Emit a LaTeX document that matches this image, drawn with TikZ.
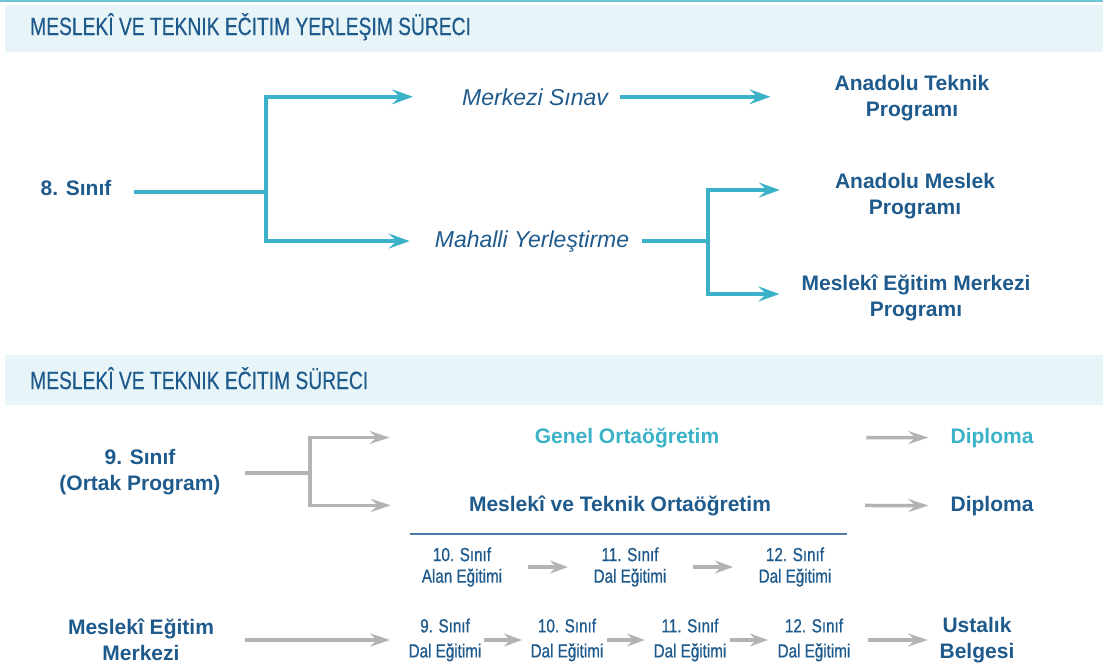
\documentclass[tikz,border=0pt]{standalone}
\usepackage{fontspec}
\setmainfont{Liberation Sans}
\newfontfamily\baslikfont[FakeStretch=0.77,FakeBold=0.4]{Liberation Sans}
\newfontfamily\dalfont[FakeStretch=0.8,FakeBold=0.8]{Liberation Sans}
\usetikzlibrary{arrows.meta}

\definecolor{koyumavi}{RGB}{30,90,140}
\definecolor{turkuaz}{RGB}{60,178,200}
\definecolor{gri}{RGB}{178,179,181}
\definecolor{bant}{RGB}{232,245,248}

\tikzset{
  baslik/.style={anchor=base west, inner sep=0pt, text=koyumavi, font=\baslikfont\fontsize{25}{30}\selectfont},
  kalin/.style={inner sep=0pt, align=center, text=koyumavi, font=\bfseries\fontsize{21}{26}\selectfont},
  egik/.style={anchor=base, inner sep=0pt, text=koyumavi, font=\itshape\fontsize{23}{28}\selectfont},
  dal/.style={inner sep=0pt, align=center, text=koyumavi, font=\dalfont\fontsize{19}{#1}\selectfont},
  dal/.default=25,
  tcizgi/.style={turkuaz, line width=4pt},
  tok/.style={tcizgi, -{Stealth[length=21pt,width=15pt,inset=8pt]}},
  gcizgi/.style={gri, line width=3.5pt},
  gok/.style={gcizgi, -{Stealth[length=20pt,width=13pt,inset=7pt]}},
  kok/.style={gri, line width=3.8pt, -{Stealth[length=18pt,width=13pt,inset=6pt]}},
}

\begin{document}
\begin{tikzpicture}[x=1pt,y=-1pt]
    \useasboundingbox (0,0) rectangle (1103,670);
    % Title bands
    \draw[turkuaz!75, line width=2.5pt] (0,1) -- (1103,1);
    \fill[bant] (5,5) rectangle (1103,52);
    \fill[bant] (5,355) rectangle (1103,405);
    \node[baslik] (b1) at (30,35) {MESLEKÎ VE TEKNIK EČITIM YERLEŞIM SÜRECI};
    \node[baslik] (b2) at (30,389) {MESLEKÎ VE TEKNIK EČITIM SÜRECI};

    % Placement
    \node[kalin, anchor=base] (s8) at (76,195) {8. Sınıf};
    \node[egik] (mrk) at (535,105) {Merkezi Sınav};
    \node[egik] (mhl) at (532,247) {Mahalli Yerleştirme};
    \node[kalin] (atp) at (912,98) {Anadolu Teknik\\Programı};
    \node[kalin] (amp) at (915,196) {Anadolu Meslek\\Programı};
    \node[kalin] (mem) at (916,298) {Meslekî Eğitim Merkezi\\Programı};
    \coordinate (j1) at (266,191.5);
    \coordinate (j2) at (708,241);

    \draw[tcizgi, shorten <=22pt] (s8.east |- j1) -- (j1);
    \draw[tok, shorten >=49pt] (j1) |- (mrk.west);
    \draw[tok, shorten >=25pt] (j1) |- (mhl.west);
    \draw[tok, shorten <=12pt, shorten >=64pt] (mrk.east) -- (mrk.east -| atp.west);
    \draw[tcizgi, shorten <=13pt] (mhl.east |- j2) -- (j2);
    \draw[tok, shorten >=55pt] (j2) |- ([yshift=6pt]amp.west);
    \draw[tok, shorten >=22pt] (j2) |- ([yshift=4pt]mem.west);

    % Process
    \node[kalin] (s9) at (140,472) {9. Sınıf\\(Ortak Program)};
    \node[kalin, anchor=base, text=turkuaz] (gen) at (627,443) {Genel Ortaöğretim};
    \node[kalin, anchor=base] (mvt) at (620,511) {Meslekî ve Teknik Ortaöğretim};
    \node[kalin, anchor=base, text=turkuaz] (dip1) at (992,443) {Diploma};
    \node[kalin, anchor=base] (dip2) at (992,511) {Diploma};
    \coordinate (j3) at (310,473);

    \draw[gcizgi, shorten <=24pt] (s9.east |- j3) -- (j3);
    \draw[gok, shorten >=145pt] (j3) |- (gen.west);
    \draw[gok, shorten >=78pt] (j3) |- (mvt.west);
    \draw[gok, shorten <=147pt, shorten >=22pt] (gen.east) -- (dip1.west);
    \draw[gok, shorten <=94pt, shorten >=22pt] (mvt.east) -- (dip2.west);
    \draw[koyumavi!80, line width=1.5pt] (410,534) -- (847,534);

    % Rows
    \node[dal=21.5] (a10) at (462,567) {10. Sınıf\\Alan Eğitimi};
    \node[dal=21.5] (a11) at (630,567) {11. Sınıf\\Dal Eğitimi};
    \node[dal=21.5] (a12) at (795,567) {12. Sınıf\\Dal Eğitimi};
    \draw[kok, shorten <=66pt, shorten >=62pt] (a10.center) -- (a11.center);
    \draw[kok, shorten <=63pt, shorten >=62pt] (a11.center) -- (a12.center);

    \node[kalin] (mem2) at (141,640) {Meslekî Eğitim\\Merkezi};
    \node[dal] (m9) at (445,640) {9. Sınıf\\Dal Eğitimi};
    \node[dal] (m10) at (567,640) {10. Sınıf\\Dal Eğitimi};
    \node[dal] (m11) at (690,640) {11. Sınıf\\Dal Eğitimi};
    \node[dal] (m12) at (814,640) {12. Sınıf\\Dal Eğitimi};
    \node[kalin] (ust) at (977,640) {Ustalık\\Belgesi};
    \draw[gok, shorten <=104pt, shorten >=55pt] (mem2.center) -- (m9.center);
    \draw[kok, shorten <=39pt, shorten >=45pt] (m9.center) -- (m10.center);
    \draw[kok, shorten <=40pt, shorten >=45pt] (m10.center) -- (m11.center);
    \draw[kok, shorten <=40pt, shorten >=46pt] (m11.center) -- (m12.center);
    \draw[gok, shorten <=54pt, shorten >=49pt] (m12.center) -- (ust.center);
\end{tikzpicture}
\end{document}
